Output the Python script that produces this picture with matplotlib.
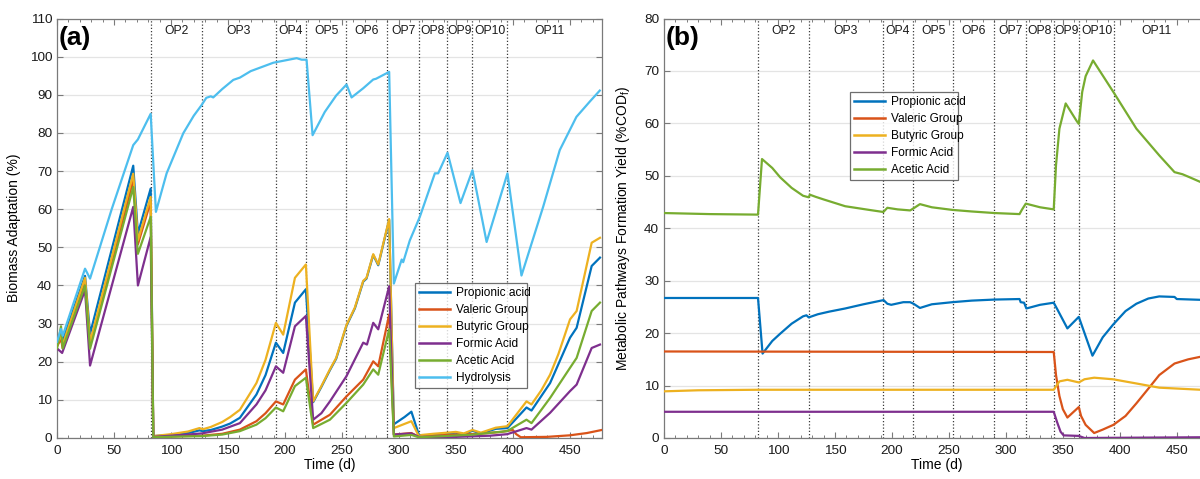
import matplotlib
matplotlib.use("Agg")
import matplotlib.pyplot as plt
from matplotlib.ticker import MultipleLocator
import numpy as np

plt.rcParams['font.family'] = ['Liberation Sans', 'DejaVu Sans']
plt.rcParams['mathtext.fontset'] = 'custom'
plt.rcParams['mathtext.rm'] = 'Liberation Sans'

# ---------------- data ----------------
op_bounds = [82.5, 127.5, 192, 218.5, 254, 290, 317.5, 342.5, 364.5, 395]
op_names = ["OP2", "OP3", "OP4", "OP5", "OP6", "OP7", "OP8", "OP9", "OP10", "OP11"]
op_end = 470

series_names = ["Propionic acid", "Valeric Group", "Butyric Group", "Formic Acid", "Acetic Acid", "Hydrolysis"]
colors = ["#0072BD", "#D95319", "#EDB120", "#7E2F8E", "#77AC30", "#4DBEEE"]

# Panel (a): Biomass adaptation (%)
a_prop_t = [0, 3.5, 5, 24.6, 29, 66.9, 71, 82.2, 84.5, 100, 115, 125, 128, 135, 145, 152, 160.5, 175, 183, 192.1,
            198.5, 208.8, 218.4, 224.8, 232, 239.5, 245, 254, 261.4, 268.7, 271.6, 277.5, 281.9, 291.5, 295.6, 305,
            311, 317.5, 320, 330, 342.5, 350, 357, 364.6, 372, 385, 395.3, 412, 416.4, 432.7, 450.2, 456, 469.2, 476.5]
a_prop_v = [25, 27.5, 25.6, 42.5, 27.3, 71.4, 53.6, 65.4, 0.5, 0.8, 1.3, 2.0, 1.8, 2.1, 3.0, 3.8, 5.3, 11.4, 16.5, 25,
            22.3, 35.5, 39, 9.4, 13.4, 17.8, 20.8, 29.4, 34.0, 41.0, 41.8, 48.0, 45.3, 57.2, 3.6, 5.5,
            6.9, 0.9, 0.6, 0.9, 1.2, 1.4, 1.0, 1.9, 1.2, 2.4, 2.6, 8.0, 7.2, 14.4, 26.3, 28.9, 45.1, 47.3]

a_val_t = [0, 3.5, 5, 24.6, 29, 66.9, 71, 82.2, 84.5, 110, 127, 145, 160.5, 175, 183, 192.1, 198.5, 208.8, 218.4,
           224.8, 239.5, 254, 268.7, 277.5, 281.9, 291.5, 295.6, 311, 317.5, 330, 350, 370, 390, 400, 403, 407,
           430, 450, 465, 478]
a_val_v = [24, 26, 23.5, 41, 24.3, 67.6, 50.8, 62, 0.2, 0.5, 0.6, 1.1, 2.2, 4.4, 6.5, 9.6, 8.8, 15.3, 18,
           3.5, 6.1, 10.9, 15.3, 20.1, 18.8, 32.4, 0.9, 1.3, 0.3, 0.6, 0.9, 1.1, 1.6, 2.1, 1.0, 0.2,
           0.3, 0.7, 1.3, 2.1]

a_but_t = [0, 3.5, 5, 24.6, 29, 66.9, 71, 82.2, 84.5, 100, 115, 125, 128, 135, 145, 152, 160.5, 167.8, 175, 183,
           192.1, 198.5, 208.8, 218.4, 224.8, 232, 239.5, 245, 254, 261.4, 268.7, 271.6, 277.5, 281.9, 291.5,
           295.6, 311, 317.5, 320, 330, 342.5, 350, 357, 364.6, 372, 385, 395.3, 412, 416.4, 425, 432.7, 440,
           450.2, 456, 469.2, 476.5]
a_but_v = [24.5, 27, 24.5, 42, 25.1, 69.3, 51.8, 63.2, 0.5, 1.0, 1.7, 2.6, 2.3, 2.9, 4.2, 5.5, 7.4, 10.9, 14.4, 20.5,
           30.2, 27.1, 42, 45.5, 9.6, 13.6, 18, 21, 29.6, 34.2, 41.2, 42, 48.2, 45.5, 57.4,
           2.6, 4.4, 0.5, 0.8, 1.1, 1.4, 1.6, 1.2, 2.1, 1.4, 2.7, 3.1, 9.6, 8.8, 12.5, 16.6, 22,
           31.1, 33.3, 51.2, 52.5]

a_form_t = [0, 4.5, 24.6, 29, 66.9, 71, 82.2, 84.5, 110, 127, 145, 160.5, 175, 183, 192.1, 198.5, 208.8, 218.4,
            224.8, 232, 239.5, 254, 268.7, 272, 277.5, 281.9, 291.5, 295.6, 311, 317.5, 350, 380, 395, 412,
            416.4, 432.7, 450.2, 456, 469.2, 476.5]
a_form_v = [23.5, 22.3, 38.8, 19, 60.6, 40, 52.7, 0.3, 0.8, 1.2, 2.2, 3.9, 8.8, 12.5, 18.8, 17.1, 29.3, 32,
            4.8, 6.5, 9.6, 16.2, 25, 24.5, 30.2, 28.5, 39.8, 0.9, 1.2, 0.3, 0.3, 0.6, 1.0, 2.6,
            2.2, 6.6, 12.3, 14, 23.6, 24.5]

a_acet_t = [0, 3.5, 5, 24.6, 29, 66.9, 71, 82.2, 84.5, 110, 127, 145, 160.5, 175, 183, 192.1, 198.5, 208.8,
            218.4, 224.8, 239.5, 254, 268.7, 277.5, 281.9, 291.5, 295.6, 311, 317.5, 340, 365, 395, 412,
            416.4, 432.7, 450.2, 456, 469.2, 476.5]
a_acet_v = [23.5, 29.3, 23.5, 40, 23.4, 65.8, 48.3, 58, 0.2, 0.4, 0.5, 0.9, 1.8, 3.5, 5.2, 8, 7, 13.6,
            15.8, 2.6, 4.8, 9.2, 14, 18, 16.6, 28.5, 0.4, 0.8, 0.2, 0.5, 0.9, 1.8, 4.8,
            3.9, 10.5, 18.4, 21, 33.3, 35.5]

a_hyd_t = [0, 3.5, 5, 24.6, 29, 48, 66.9, 71, 82.2, 86.8, 96.2, 110.8, 120, 126.9, 131, 135, 137.1, 145, 154.7,
           160.5, 170, 189.8, 210.3, 214.7, 219, 224.3, 235, 245, 254.1, 258.5, 268.7, 277.5, 280, 291.5,
           295.6, 302.5, 303.8, 309.6, 318.4, 331.6, 334.5, 342.7, 354.1, 364.6, 377, 395.3, 407.6, 426.6,
           441.2, 455.8, 467.5, 476.3]
a_hyd_v = [25.2, 28.6, 26.8, 44.4, 41.8, 60, 76.8, 78.3, 85, 59.3, 69.4, 79.9, 84.5, 87.3, 89.2, 89.6, 89.3, 91.5, 93.9,
           94.5, 96.2, 98.4, 99.6, 99.2, 99.2, 79.4, 85.5, 89.8, 92.7, 89.3, 91.7, 94, 94.2, 96,
           40.5, 46.8, 46.1, 51.8, 58, 69.4, 69.4, 74.8, 61.6, 70.2, 51.4, 69.4, 42.6, 60.6,
           75.5, 84.2, 88.2, 91.1]

# Panel (b): metabolic pathways formation yield (%COD_f)
b_prop_t = [0, 82.5, 86.5, 95, 102, 112, 122, 125, 127, 135, 145, 159, 175, 192.7, 196, 199.4, 210, 216, 219,
            224.6, 235, 253, 270, 290, 312, 313, 316, 318, 330, 342, 345, 354, 364, 376, 385, 394, 405,
            414.5, 425, 434.6, 448, 450, 478]
b_prop_v = [26.7, 26.7, 16.1, 18.5, 19.9, 21.8, 23.2, 23.4, 23.0, 23.6, 24.1, 24.7, 25.5, 26.3, 25.6, 25.4, 25.9, 25.9, 25.6,
            24.8, 25.5, 25.9, 26.2, 26.4, 26.5, 25.9, 25.8, 24.7, 25.4, 25.8, 24.6, 20.9, 23.1, 15.7, 19.2, 21.6, 24.2,
            25.6, 26.6, 27.0, 26.9, 26.5, 26.3]

b_val_t = [0, 342, 344, 347, 350, 354, 364, 366, 370, 377.5, 385, 394.3, 405, 414.5, 425, 434.6, 448, 460, 471, 478]
b_val_v = [16.5, 16.4, 12, 8, 5.5, 3.9, 5.9, 4.2, 2.5, 0.95, 1.6, 2.5, 4.2, 6.6, 9.4, 12, 14.2, 15.0, 15.5, 15.8]

b_but_t = [0, 30, 82.5, 342, 347, 354, 364, 369, 377.5, 394, 414.5, 434.6, 471, 478]
b_but_v = [8.9, 9.1, 9.2, 9.2, 10.8, 11.1, 10.6, 11.2, 11.5, 11.2, 10.4, 9.6, 9.2, 9.2]

b_form_t = [0, 342, 345, 348, 350.7, 364, 369, 478]
b_form_v = [5.0, 5.0, 3.0, 1.2, 0.5, 0.4, 0.0, 0.15]

b_acet_t = [0, 40, 82.5, 86, 95, 102, 112, 122, 127, 128, 133, 140, 159, 180, 192.5, 196, 205, 216, 219, 224.6,
            235, 253, 270, 290, 312, 314, 317.5, 330, 342, 344, 347, 352.5, 362, 364, 367, 370, 376.5, 394.3,
            414.5, 434.6, 448, 455, 461.5, 471, 478]
b_acet_v = [42.9, 42.7, 42.6, 53.2, 51.5, 49.7, 47.7, 46.2, 45.9, 46.4, 46.0, 45.5, 44.2, 43.5, 43.1, 43.9, 43.6, 43.4, 43.8, 44.6,
            44.0, 43.5, 43.2, 42.9, 42.7, 43.5, 44.7, 44.0, 43.6, 52, 59, 63.8, 60.5, 59.9, 66, 69, 72, 66,
            59, 53.9, 50.7, 50.3, 49.7, 48.8, 48.5]

a_series = [(a_prop_t, a_prop_v), (a_val_t, a_val_v), (a_but_t, a_but_v),
            (a_form_t, a_form_v), (a_acet_t, a_acet_v), (a_hyd_t, a_hyd_v)]
b_series = [(b_prop_t, b_prop_v), (b_val_t, b_val_v), (b_but_t, b_but_v),
            (b_form_t, b_form_v), (b_acet_t, b_acet_v)]

# ---------------- figure ----------------
W, H = 1200, 479
fig = plt.figure(figsize=(W / 100, H / 100), dpi=100)

ax_w = 544.7 / W
ax_h = (438 - 18.5) / H
ax_b = 1 - 438 / H
axA = fig.add_axes([57 / W, ax_b, ax_w, ax_h])
axB = fig.add_axes([664 / W, ax_b, ax_w, ax_h])

spine_col = "#7a7a7a"


def style(ax, ymax):
    ax.set_xlim(0, 478)
    ax.set_ylim(0, ymax)
    ax.xaxis.set_major_locator(MultipleLocator(50))
    ax.xaxis.set_minor_locator(MultipleLocator(10))
    ax.yaxis.set_major_locator(MultipleLocator(10))
    ax.tick_params(which='both', direction='in', top=True, right=True, colors=spine_col,
                   labelcolor='#1a1a1a', labelsize=9.7)
    ax.tick_params(which='major', length=4, width=0.8)
    ax.tick_params(which='minor', length=2.5, width=0.7)
    ax.tick_params(axis='x', pad=5)
    for s in ax.spines.values():
        s.set_color(spine_col)
        s.set_linewidth(0.9)
    ax.grid(axis='y', which='major', color='#e4e4e4', linewidth=0.9)
    ax.set_axisbelow(True)
    for xb in op_bounds:
        ax.axvline(xb, color='#3a3a3a', linestyle=(0, (1, 1.6)), linewidth=0.9, zorder=1)
    edges = op_bounds + [op_end]
    for i, name in enumerate(op_names):
        xc = (edges[i] + edges[i + 1]) / 2
        ax.text(xc, 0.971, name, transform=ax.get_xaxis_transform(), ha='center', va='center',
                fontsize=8.7, color='#1a1a1a')
    ax.set_xlabel("Time (d)", fontsize=10)
    ax.xaxis.set_label_coords(0.5, -0.048)


style(axA, 110)
style(axB, 80)

for (t, v), c, n in zip(a_series, colors, series_names):
    axA.plot(t, v, color=c, linewidth=1.6, label=n, zorder=3)
for (t, v), c, n in zip(b_series, colors, series_names[:5]):
    axB.plot(t, v, color=c, linewidth=1.6, label=n, zorder=3)

axA.set_ylabel("Biomass Adaptation (%)", fontsize=10)
axA.yaxis.set_label_coords(-0.066, 0.5)
axB.set_ylabel(r"Metabolic Pathways Formation Yield (%COD$_\mathregular{f}$)", fontsize=10)
axB.yaxis.set_label_coords(-0.059, 0.5)

axA.text(0.003, 0.981, "(a)", transform=axA.transAxes, fontsize=19, fontweight='bold', va='top', ha='left')
axB.text(0.003, 0.981, "(b)", transform=axB.transAxes, fontsize=19, fontweight='bold', va='top', ha='left')

legA = axA.legend(loc='lower left', bbox_to_anchor=(0.657, 0.118, 0.206, 0.236), mode='expand',
                  fontsize=8.6, frameon=True, fancybox=False, edgecolor='#4a4a4a', handlelength=2.6,
                  handletextpad=0.5, labelspacing=0.42, borderpad=0.35, borderaxespad=0)
legA.get_frame().set_linewidth(0.9)
legB = axB.legend(loc='lower left', bbox_to_anchor=(0.341, 0.614, 0.199, 0.191), mode='expand',
                  fontsize=8.6, frameon=True, fancybox=False, edgecolor='#4a4a4a', handlelength=2.6,
                  handletextpad=0.5, labelspacing=0.42, borderpad=0.35, borderaxespad=0)
legB.get_frame().set_linewidth(0.9)
for leg in (legA, legB):
    for line in leg.get_lines():
        line.set_linewidth(1.8)

fig.savefig("out.png", dpi=100)
